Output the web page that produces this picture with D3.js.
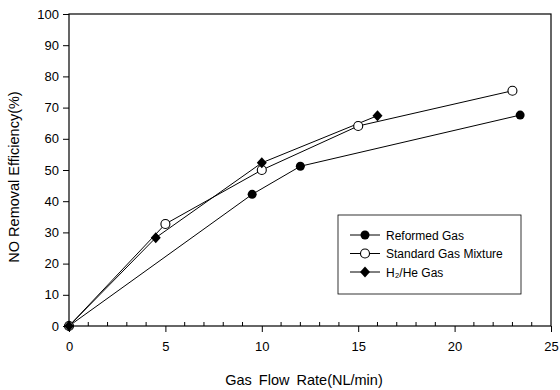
<!DOCTYPE html>
<html><head><meta charset="utf-8">
<script src="https://cdn.jsdelivr.net/npm/d3@7"></script>
<style>body{margin:0;background:#fff}svg{display:block;font-family:"Liberation Sans",Arial,sans-serif}</style>
</head><body><svg id="c" width="560" height="390"></svg>
<script>
const reformedX = [0, 9.5, 12, 23.4];
const reformedY = [0, 42.2, 51.2, 67.6];
const standardX = [0, 5, 10, 15, 23];
const standardY = [0, 32.7, 50, 64.1, 75.4];
const h2heX = [0, 4.5, 10, 16];
const h2heY = [0, 28.3, 52.3, 67.4];
const xTicks = [0, 5, 10, 15, 20, 25];
const yTicks = [0, 10, 20, 30, 40, 50, 60, 70, 80, 90, 100];
const seriesNames = ["Reformed Gas", "Standard Gas Mixture", "H\u2082/He Gas"];

const svg = d3.select("#c");
const L = 69, R = 551, T = 14, B = 326;
const x = d3.scaleLinear().domain([0, 25]).range([L, R]);
const y = d3.scaleLinear().domain([0, 100]).range([B, T]);

// frame
svg.append("rect").attr("x", L).attr("y", T).attr("width", R - L).attr("height", B - T)
  .attr("fill", "none").attr("stroke", "#000").attr("stroke-width", 1.2);

// y axis
const ya = svg.append("g").attr("transform", `translate(${L},0)`)
  .call(d3.axisLeft(y).tickValues(yTicks).tickSize(6).tickPadding(4));
ya.select(".domain").remove();
ya.selectAll("text").attr("font-size", 13).attr("font-family", "Liberation Sans, Arial, sans-serif").attr("fill", "#000");
ya.selectAll("line").attr("stroke", "#000");

// x axis major ticks (down)
const xa = svg.append("g").attr("transform", `translate(0,${B})`)
  .call(d3.axisBottom(x).tickValues(xTicks).tickSize(6).tickPadding(10));
xa.select(".domain").remove();
xa.selectAll("text").attr("font-size", 13).attr("font-family", "Liberation Sans, Arial, sans-serif").attr("fill", "#000");
xa.selectAll("line").attr("stroke", "#000");
// minor ticks (up)
const minor = d3.range(1, 25).filter(v => v % 5 !== 0);
svg.append("g").selectAll("line").data(minor).join("line")
  .attr("x1", d => x(d)).attr("x2", d => x(d)).attr("y1", B).attr("y2", B - 4)
  .attr("stroke", "#000").attr("stroke-width", 1);

// axis labels
svg.append("text").attr("x", (L + R) / 2 - 6).attr("y", 385).attr("text-anchor", "middle")
  .attr("font-size", 14.5).attr("word-spacing", 3).text("Gas Flow Rate(NL/min)");
svg.append("text").attr("transform", `translate(19,177) rotate(-90)`).attr("text-anchor", "middle")
  .attr("font-size", 14.5).text("NO Removal Efficiency(%)");

const line = d3.line().x(d => x(d[0])).y(d => y(d[1]));
const series = [
  {xs: reformedX, ys: reformedY, type: "fcircle"},
  {xs: standardX, ys: standardY, type: "ocircle"},
  {xs: h2heX, ys: h2heY, type: "diamond"}
];
function marker(g, type, cx, cy) {
  if (type === "fcircle") g.append("circle").attr("cx", cx).attr("cy", cy).attr("r", 4.5).attr("fill", "#000");
  else if (type === "ocircle") g.append("circle").attr("cx", cx).attr("cy", cy).attr("r", 4.5).attr("fill", "#fff").attr("stroke", "#000").attr("stroke-width", 1.1);
  else g.append("path").attr("d", `M${cx},${cy-5.5}L${cx+5},${cy}L${cx},${cy+5.5}L${cx-5},${cy}Z`).attr("fill", "#000");
}
series.forEach(s => {
  const pts = s.xs.map((v, i) => [v, s.ys[i]]);
  svg.append("path").attr("d", line(pts)).attr("fill", "none").attr("stroke", "#000").attr("stroke-width", 1);
});
series.forEach(s => {
  const g = svg.append("g");
  s.xs.forEach((v, i) => marker(g, s.type, x(v), y(s.ys[i])));
});

// legend
svg.append("rect").attr("x", 338).attr("y", 215).attr("width", 183).attr("height", 79)
  .attr("fill", "#fff").attr("stroke", "#000").attr("stroke-width", 0.8);
const ly = [235, 253.5, 272];
series.forEach((s, i) => {
  const g = svg.append("g");
  g.append("line").attr("x1", 350).attr("x2", 380).attr("y1", ly[i]).attr("y2", ly[i]).attr("stroke", "#000");
  marker(g, s.type, 365, ly[i]);
  g.append("text").attr("x", 386).attr("y", ly[i] + 4.5).attr("font-size", 12).text(seriesNames[i]);
});
</script></body></html>
